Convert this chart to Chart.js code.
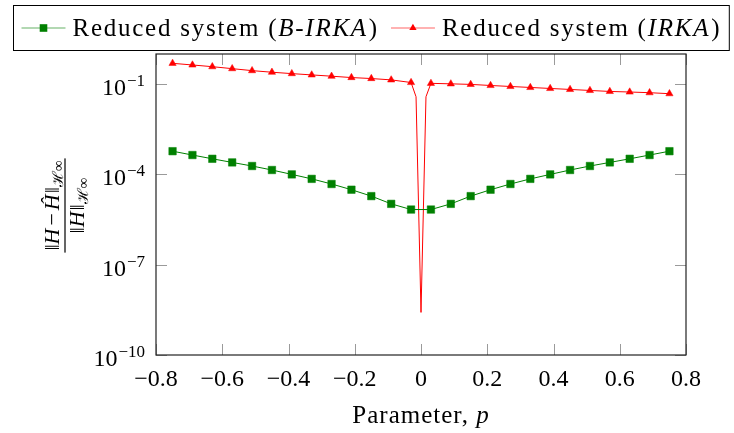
<!DOCTYPE html>
<html>
<head>
<meta charset="utf-8">
<script src="https://cdn.jsdelivr.net/npm/chart.js@4.4.1/dist/chart.umd.min.js"></script>
<style>
  html, body { margin: 0; padding: 0; background: #fff; }
</style>
</head>
<body>
<canvas id="chart" width="734" height="433"></canvas>
<script>
// p values where both reduced systems are marked
const pMarked = [-0.75, -0.69, -0.63, -0.57, -0.51, -0.45, -0.39, -0.33, -0.27, -0.21, -0.15, -0.09, -0.03,
                 0.03, 0.09, 0.15, 0.21, 0.27, 0.33, 0.39, 0.45, 0.51, 0.57, 0.63, 0.69, 0.75];
// relative H-infinity error, B-IRKA
const errBirka = [5.9e-4, 4.4e-4, 3.3e-4, 2.5e-4, 1.9e-4, 1.4e-4, 1.0e-4, 7.1e-5, 4.8e-5, 3.1e-5, 1.9e-5, 1.05e-5, 6.8e-6,
                  6.8e-6, 1.05e-5, 1.9e-5, 3.1e-5, 4.8e-5, 7.1e-5, 1.0e-4, 1.4e-4, 1.9e-4, 2.5e-4, 3.3e-4, 4.4e-4, 5.9e-4];
// IRKA is also sampled close to p = 0 (unmarked points)
const pIrka = [-0.75, -0.69, -0.63, -0.57, -0.51, -0.45, -0.39, -0.33, -0.27, -0.21, -0.15, -0.09, -0.03,
               -0.015, 0, 0.015,
               0.03, 0.09, 0.15, 0.21, 0.27, 0.33, 0.39, 0.45, 0.51, 0.57, 0.63, 0.69, 0.75];
const errIrka = [0.49, 0.432, 0.379, 0.326, 0.28, 0.248, 0.223, 0.202, 0.183, 0.165, 0.153, 0.138, 0.113,
                 0.038, 2.6e-9, 0.038,
                 0.106, 0.102, 0.0977, 0.0899, 0.0834, 0.0773, 0.0716, 0.0664, 0.0615, 0.057, 0.0546, 0.0518, 0.048];

const xTickVals = [-0.8, -0.6, -0.4, -0.2, 0, 0.2, 0.4, 0.6, 0.8];
const xTickLabels = ['\u22120.8', '\u22120.6', '\u22120.4', '\u22120.2', '0', '0.2', '0.4', '0.6', '0.8'];
const yTickVals = [1e-10, 1e-7, 1e-4, 1e-1];
const yTickExps = ['\u221210', '\u22127', '\u22124', '\u22121'];

const seriesNames = ['Reduced system (', 'B-IRKA', ')', 'Reduced system (', 'IRKA', ')'];

const GREEN = 'rgb(0,128,0)';
const RED = 'rgb(255,0,0)';
const FONT = "'Liberation Serif', 'DejaVu Serif', serif";

function drawRuns(ctx, runs, x, y) {
    for (const r of runs) {
        ctx.font = (r.italic ? 'italic ' : '') + r.size + 'px ' + FONT;
        ctx.fillText(r.text, x, y + (r.dy || 0));
        x += ctx.measureText(r.text).width + (r.after || 0);
    }
    return x;
}

function runsWidth(ctx, runs) {
    let w = 0;
    for (const r of runs) {
        ctx.font = (r.italic ? 'italic ' : '') + r.size + 'px ' + FONT;
        w += ctx.measureText(r.text).width + (r.after || 0);
    }
    return w;
}

function drawMarker(ctx, kind, x, y, color) {
    ctx.fillStyle = color;
    ctx.beginPath();
    if (kind === 'rect') {
        ctx.rect(x - 3.8, y - 3.8, 7.6, 7.6);
    } else {
        const r = 4.2;
        ctx.moveTo(x, y - r);
        ctx.lineTo(x + r * 0.866, y + r * 0.5);
        ctx.lineTo(x - r * 0.866, y + r * 0.5);
        ctx.closePath();
    }
    ctx.fill();
}

// legend box on top, like pgfplots
const legendBox = {
    id: 'legendBox',
    afterDraw(chart) {
        const ctx = chart.ctx;
        const size = 25;
        const entries = [
            { color: GREEN, mark: 'rect', runs: [
                { text: seriesNames[0], size }, { text: seriesNames[1], size, italic: true, after: 1 }, { text: seriesNames[2], size }] },
            { color: RED, mark: 'triangle', runs: [
                { text: seriesNames[3], size }, { text: seriesNames[4], size, italic: true, after: 1 }, { text: seriesNames[5], size }] }
        ];
        const lineLen = 44, gap = 7, entryGap = 12, pad = 8;
        ctx.save();
        ctx.letterSpacing = '1.75px';
        let total = 0;
        entries.forEach((e, i) => {
            e.w = runsWidth(ctx, e.runs);
            total += lineLen + gap + e.w + (i ? entryGap : 0);
        });
        const cx = 370.5, top = 5.5, h = 45;
        const left = Math.round(cx - total / 2 - pad) + 0.5;
        ctx.strokeStyle = '#000';
        ctx.lineWidth = 1;
        ctx.strokeRect(left, top, total + 2 * pad, h);
        let x = left + pad;
        const yMid = top + h / 2;
        ctx.textBaseline = 'alphabetic';
        entries.forEach((e, i) => {
            if (i) x += entryGap;
            ctx.strokeStyle = e.color;
            ctx.globalAlpha = 0.6;
            ctx.lineWidth = 1.2;
            ctx.beginPath();
            ctx.moveTo(x, yMid);
            ctx.lineTo(x + lineLen, yMid);
            ctx.stroke();
            ctx.globalAlpha = 1;
            drawMarker(ctx, e.mark, x + lineLen / 2, yMid, e.color);
            x += lineLen + gap;
            ctx.fillStyle = '#000';
            x = drawRuns(ctx, e.runs, x, yMid + 8);
        });
        ctx.restore();
    }
};

// frame and inward ticks on all four sides, plus 10^k labels
const frameTicks = {
    id: 'frameTicks',
    beforeDatasetsDraw(chart) {
        const { ctx, chartArea: a, scales: { x, y } } = chart;
        ctx.save();
        ctx.strokeStyle = '#9a9a9a';
        ctx.lineWidth = 1;
        ctx.beginPath();
        xTickVals.forEach(v => {
            const px = Math.round(x.getPixelForValue(v)) + 0.5;
            ctx.moveTo(px, a.bottom); ctx.lineTo(px, a.bottom - 11);
            ctx.moveTo(px, a.top); ctx.lineTo(px, a.top + 11);
        });
        yTickVals.forEach(v => {
            const py = Math.round(y.getPixelForValue(v)) + 0.5;
            ctx.moveTo(a.left, py); ctx.lineTo(a.left + 11, py);
            ctx.moveTo(a.right, py); ctx.lineTo(a.right - 11, py);
        });
        ctx.stroke();
        ctx.strokeStyle = '#222';
        ctx.lineWidth = 1.2;
        ctx.strokeRect(a.left, a.top, a.right - a.left, a.bottom - a.top);

        ctx.fillStyle = '#000';
        ctx.textBaseline = 'alphabetic';
        ctx.textAlign = 'left';
        yTickVals.forEach((v, i) => {
            const py = y.getPixelForValue(v);
            const runs = [{ text: '10', size: 24, after: 1 }, { text: yTickExps[i], size: 17, dy: -9 }];
            const w = runsWidth(ctx, runs);
            drawRuns(ctx, runs, a.left - 11 - w, py + 11);
        });
        ctx.restore();
    }
};

// axis titles: x with italic p, y as a fraction
const axisTitles = {
    id: 'axisTitles',
    afterDraw(chart) {
        const { ctx, chartArea: a } = chart;
        ctx.save();
        ctx.fillStyle = '#000';
        ctx.textBaseline = 'alphabetic';
        ctx.letterSpacing = '1px';
        const xr = [{ text: 'Parameter, ', size: 25 }, { text: 'p', size: 25, italic: true }];
        const xw = runsWidth(ctx, xr);
        drawRuns(ctx, xr, (a.left + a.right) / 2 - xw / 2, 423);
        ctx.letterSpacing = '0px';

        ctx.translate(65, (a.top + a.bottom) / 2 + 1);
        ctx.rotate(-Math.PI / 2);
        const s = 22, sub = 15;
        const num = [
            { text: '\u2016', size: s }, { text: 'H', size: s, italic: true, after: 3 },
            { text: '\u2212', size: s, after: 3 }, { text: '\u0124', size: s, italic: true, after: 1 },
            { text: '\u2016', size: s }, { text: '\u210B\u221E', size: sub, dy: 4 }
        ];
        const den = [
            { text: '\u2016', size: s }, { text: 'H', size: s, italic: true, after: 1 },
            { text: '\u2016', size: s }, { text: '\u210B\u221E', size: sub, dy: 4 }
        ];
        const nw = runsWidth(ctx, num), dw = runsWidth(ctx, den);
        const bw = Math.max(nw, dw) + 4;
        drawRuns(ctx, num, -nw / 2, -6);
        drawRuns(ctx, den, -dw / 2, 19);
        ctx.fillRect(-bw / 2, -0.6, bw, 1.2);
        ctx.restore();
    }
};

new Chart(document.getElementById('chart'), {
    type: 'line',
    data: {
        datasets: [
            {
                label: 'Reduced system (B-IRKA)',
                data: pMarked.map((p, i) => ({ x: p, y: errBirka[i] })),
                borderColor: GREEN,
                backgroundColor: GREEN,
                borderWidth: 1,
                pointStyle: 'rect',
                pointRadius: 5.3,
                pointBorderWidth: 0.5,
                tension: 0
            },
            {
                label: 'Reduced system (IRKA)',
                data: pIrka.map((p, i) => ({ x: p, y: errIrka[i] })),
                borderColor: RED,
                backgroundColor: RED,
                borderWidth: 1,
                pointStyle: 'triangle',
                pointRadius: ctx => pMarked.includes(pIrka[ctx.dataIndex]) ? 4.2 : 0,
                pointBorderWidth: 0.5,
                tension: 0
            }
        ]
    },
    options: {
        responsive: false,
        animation: false,
        devicePixelRatio: 1,
        layout: { padding: { top: 54, right: 48, left: 0, bottom: 0 } },
        plugins: { legend: { display: false }, tooltip: { enabled: false } },
        scales: {
            x: {
                type: 'linear',
                min: -0.8,
                max: 0.8,
                grid: { display: false },
                border: { display: false },
                afterBuildTicks: scale => { scale.ticks = xTickVals.map(v => ({ value: v })); },
                afterFit: scale => { scale.height = 78; },
                ticks: {
                    color: '#000',
                    font: { family: FONT, size: 24 },
                    padding: 2,
                    maxRotation: 0,
                    callback: (v, i) => xTickLabels[i]
                }
            },
            y: {
                type: 'logarithmic',
                min: 1e-10,
                max: 1,
                grid: { display: false },
                border: { display: false },
                afterBuildTicks: scale => { scale.ticks = yTickVals.map(v => ({ value: v })); },
                afterFit: scale => { scale.width = 156; },
                ticks: { display: false }
            }
        }
    },
    plugins: [frameTicks, axisTitles, legendBox]
});
</script>
</body>
</html>
